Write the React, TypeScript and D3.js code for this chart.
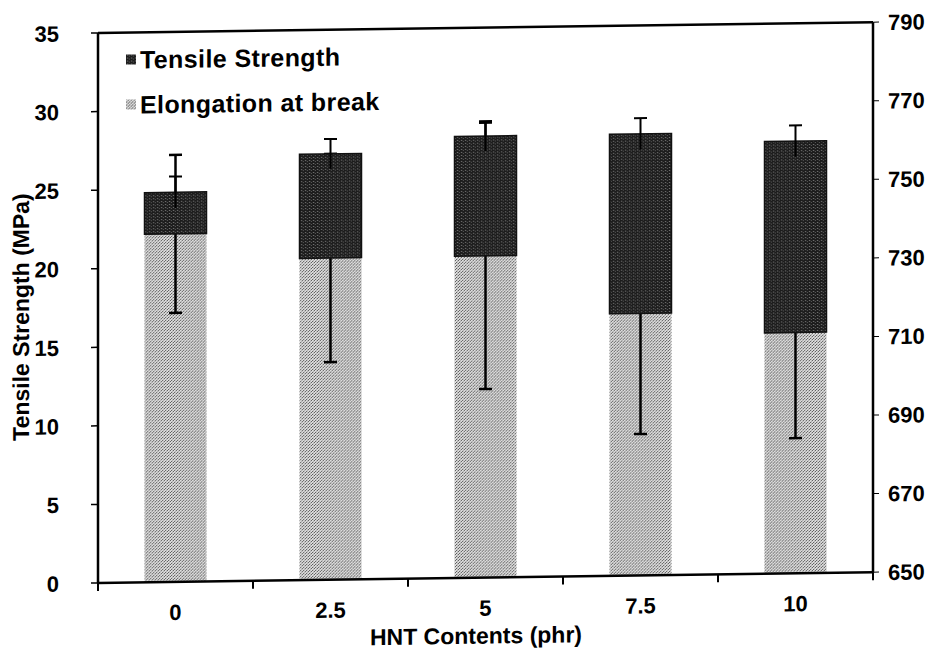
import React from "react";
import * as d3 from "d3";

// HNT loading levels (phr)
const categories = ["0", "2.5", "5", "7.5", "10"];
// Tensile strength (MPa), left axis
const tensile = [24.8, 27.1, 28.1, 28.1, 27.5];
const tensileErr = [1.0, 0.95, 0.95, 1.0, 1.0];
// Elongation at break (%), right axis
const elongation = [738.6, 731.9, 731.9, 716.7, 711.3];
const elongationErr = [20.1, 26.5, 33.9, 30.7, 26.9];
// Axis ticks
const leftTicks = [0, 5, 10, 15, 20, 25, 30, 35];
const rightTicks = [650, 670, 690, 710, 730, 750, 770, 790];
const legendLabels = ["Tensile Strength", "Elongation at break"];

const W = 945;
const H = 657;
const M = { left: 98, right: 873, top: 33, bottom: 583 };
const FONT = "'Liberation Sans', Arial, sans-serif";

export default function App() {
  const x = d3
    .scaleBand<string>()
    .domain(categories)
    .range([M.left, M.right])
    .paddingInner(0.6)
    .paddingOuter(0.3);
  const yL = d3.scaleLinear().domain([0, 35]).range([M.bottom, M.top]);
  const yR = d3.scaleLinear().domain([650, 790]).range([M.bottom, M.top]);
  const bw = x.bandwidth();
  const step = x.step();
  const boundaries = d3.range(categories.length + 1).map((i) => M.left + i * step);
  const capW = 13;

  return (
    <svg
      width={W}
      height={H}
      style={{ position: "absolute", left: 0, top: 0, background: "#fff" }}
    >
      <defs>
        <pattern id="darkFill" width="4" height="3" patternUnits="userSpaceOnUse">
          <rect width="4" height="3" fill="#1c1c1c" />
          <rect x="1" y="1" width="1" height="1" fill="#9a9a9a" />
          <rect x="3" y="2" width="1" height="1" fill="#5a5a5a" />
        </pattern>
        <pattern id="lightFill" width="3" height="3" patternUnits="userSpaceOnUse">
          <rect width="3" height="3" fill="#e0e0e0" />
          <rect x="0" y="0" width="1" height="1" fill="#505050" />
          <rect x="2" y="1" width="1" height="1" fill="#505050" />
          <rect x="1" y="2" width="1" height="1" fill="#909090" />
        </pattern>
      </defs>
      <g transform={`translate(0, ${(0.01396 * M.left).toFixed(2)}) skewY(-0.8)`}>
        {/* elongation bars (full height from the baseline) */}
        {categories.map((c, i) => (
          <rect
            key={"e" + c}
            x={x(c)!}
            y={yR(elongation[i])}
            width={bw}
            height={yR(650) - yR(elongation[i])}
            fill="url(#lightFill)"
          />
        ))}
        {/* elongation error bars */}
        {categories.map((c, i) => {
          const cx = x(c)! + bw / 2;
          const hi = yR(elongation[i] + elongationErr[i]);
          const lo = yR(elongation[i] - elongationErr[i]);
          return (
            <g key={"ee" + c} stroke="#000" strokeWidth={2.5}>
              <line x1={cx} x2={cx} y1={hi} y2={lo} />
              <line x1={cx - capW / 2} x2={cx + capW / 2} y1={hi} y2={hi} />
              <line x1={cx - capW / 2} x2={cx + capW / 2} y1={lo} y2={lo} />
            </g>
          );
        })}
        {/* tensile strength bars: the part standing above the elongation bar */}
        {categories.map((c, i) => (
          <rect
            key={"t" + c}
            x={x(c)!}
            y={yL(tensile[i])}
            width={bw}
            height={Math.max(0, yR(elongation[i]) - yL(tensile[i]))}
            fill="url(#darkFill)"
            stroke="#111"
            strokeWidth={1.5}
          />
        ))}
        {/* tensile error bars */}
        {categories.map((c, i) => {
          const cx = x(c)! + bw / 2;
          const hi = yL(tensile[i] + tensileErr[i]);
          const lo = yL(tensile[i] - tensileErr[i]);
          return (
            <g key={"te" + c} stroke="#000" strokeWidth={2}>
              <line x1={cx} x2={cx} y1={hi} y2={lo} />
              <line x1={cx - capW / 2} x2={cx + capW / 2} y1={hi} y2={hi} />
            </g>
          );
        })}

        {/* frame */}
        <g stroke="#000" strokeWidth={2.5} fill="none">
          <line x1={M.left} x2={M.right} y1={M.top} y2={M.top} />
          <line x1={M.left} x2={M.right} y1={M.bottom} y2={M.bottom} />
          <line x1={M.left} x2={M.left} y1={M.top} y2={M.bottom} />
          <line x1={M.right} x2={M.right} y1={M.top} y2={M.bottom} />
        </g>

        {/* left axis */}
        {leftTicks.map((t) => (
          <g key={"l" + t}>
            <line x1={M.left - 7} x2={M.left} y1={yL(t)} y2={yL(t)} stroke="#000" strokeWidth={1.5} />
            <text
              x={M.left - 39}
              y={yL(t)}
              dy="0.36em"
              textAnchor="end"
              fontFamily={FONT}
              fontWeight={700}
              fontSize={22}
              fill="#000"
            >
              {t}
            </text>
          </g>
        ))}

        {/* right axis */}
        {rightTicks.map((t) => (
          <g key={"r" + t}>
            <line x1={M.right} x2={M.right + 6} y1={yR(t)} y2={yR(t)} stroke="#000" strokeWidth={1} />
            <text
              x={M.right + 15}
              y={yR(t)}
              dy="0.36em"
              textAnchor="start"
              fontFamily={FONT}
              fontWeight={700}
              fontSize={22}
              fill="#000"
            >
              {t}
            </text>
          </g>
        ))}

        {/* x axis ticks and labels */}
        {boundaries.map((b, i) => (
          <line key={"xb" + i} x1={b} x2={b} y1={M.bottom} y2={M.bottom + 8} stroke="#000" strokeWidth={2} />
        ))}
        {categories.map((c) => (
          <text
            key={"xl" + c}
            x={x(c)! + bw / 2}
            y={621}
            textAnchor="middle"
            fontFamily={FONT}
            fontWeight={700}
            fontSize={22}
            fill="#000"
          >
            {c}
          </text>
        ))}
        <text
          x={476}
          y={649}
          textAnchor="middle"
          fontFamily={FONT}
          fontWeight={700}
          fontSize={23}
          fill="#000"
        >
          HNT Contents (phr)
        </text>
        <text
          transform={`translate(29, ${(M.top + M.bottom) / 2 + 8}) rotate(-90)`}
          textAnchor="middle"
          fontFamily={FONT}
          fontWeight={700}
          fontSize={23}
          fill="#000"
        >
          Tensile Strength (MPa)
        </text>

        {/* legend */}
        {legendLabels.map((l, i) => (
          <g key={"lg" + i} transform={`translate(126, ${60 + i * 45})`}>
            <rect
              x={0}
              y={-5}
              width={10}
              height={10}
              fill={i === 0 ? "url(#darkFill)" : "url(#lightFill)"}
            />
            <text
              x={14}
              y={0}
              dy="0.36em"
              fontFamily={FONT}
              fontWeight={700}
              fontSize={25}
              letterSpacing={0.4}
              fill="#000"
            >
              {l}
            </text>
          </g>
        ))}
      </g>
    </svg>
  );
}
